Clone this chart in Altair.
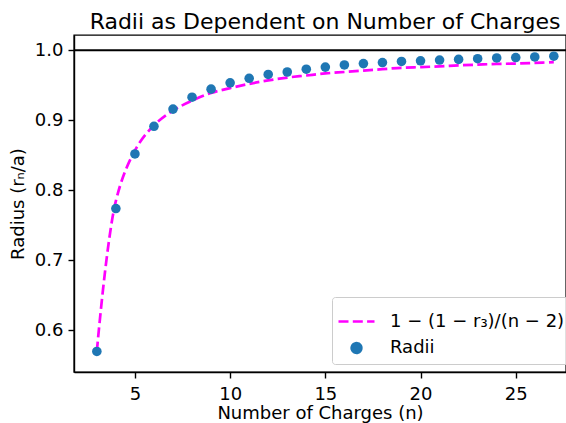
import altair as alt
import pandas as pd

# ---- data ----
n_charges = list(range(3, 28))
radii = [0.570, 0.774, 0.852, 0.8915, 0.916, 0.933, 0.9445, 0.9535, 0.960, 0.9655,
         0.969, 0.973, 0.976, 0.979, 0.981, 0.9825, 0.984, 0.985, 0.986, 0.987,
         0.988, 0.989, 0.9896, 0.9905, 0.9915]
fit_values = [0.570, 0.785, 0.857, 0.893, 0.914, 0.928, 0.939, 0.946, 0.952, 0.957,
              0.961, 0.964, 0.967, 0.969, 0.971, 0.973, 0.975, 0.976, 0.977, 0.9785,
              0.9795, 0.9805, 0.981, 0.982, 0.983]
hline_y = [1.0]
series_names = ["1 − (1 − r₃)/(n − 2)", "Radii"]
x_ticks = [5, 10, 15, 20, 25]
y_ticks = [0.6, 0.7, 0.8, 0.9, 1.0]

FONT = "DejaVu Sans"

fit_df = pd.DataFrame({"n": n_charges, "r": fit_values, "series": series_names[0]})
pts_df = pd.DataFrame({"n": n_charges, "r": radii, "series": series_names[1]})
hl_df = pd.DataFrame({"y": hline_y})

x_scale = alt.Scale(domain=[1.8, 27.64], nice=False, zero=False)
y_scale = alt.Scale(domain=[0.5407, 1.0218], nice=False, zero=False)

x_axis = alt.Axis(values=x_ticks, title="Number of Charges (n)", grid=False,
                  tickSize=6, labelPadding=7, titlePadding=1)
y_axis = alt.Axis(values=y_ticks, format=".1f", title="Radius (rₙ/a)", grid=False,
                  tickSize=6, labelPadding=5, titlePadding=7)

color_scale = alt.Scale(domain=series_names, range=["#ff00ff", "#1f77b4"])
dash_scale = alt.Scale(domain=series_names, range=[[10, 4.3], [1, 0]])
shape_scale = alt.Scale(domain=series_names, range=["stroke", "circle"])
size_scale = alt.Scale(type="ordinal", domain=series_names, range=[1296, 92])

legend = alt.Legend(title=None, orient="none", legendX=258, legendY=262,
                    padding=5, fillColor="rgba(255,255,255,0.8)", strokeColor="#cccccc",
                    cornerRadius=3, labelFontSize=18, labelFont=FONT, labelColor="black",
                    labelOffset=14, labelLimit=400, symbolStrokeWidth=2.7, rowPadding=6)

rule = alt.Chart(hl_df).mark_rule(color="black", strokeWidth=2).encode(
    y=alt.Y("y:Q", scale=y_scale, axis=y_axis)
)

line = alt.Chart(fit_df).mark_line(strokeWidth=2.7, interpolate="catmull-rom").encode(
    x=alt.X("n:Q", scale=x_scale, axis=x_axis),
    y=alt.Y("r:Q", scale=y_scale, axis=y_axis),
    color=alt.Color("series:N", scale=color_scale, legend=legend),
    strokeDash=alt.StrokeDash("series:N", scale=dash_scale, legend=legend),
)

points = alt.Chart(pts_df).mark_point(filled=True, opacity=1).encode(
    x=alt.X("n:Q", scale=x_scale, axis=x_axis),
    y=alt.Y("r:Q", scale=y_scale, axis=y_axis),
    color=alt.Color("series:N", scale=color_scale, legend=legend),
    shape=alt.Shape("series:N", scale=shape_scale, legend=legend),
    size=alt.Size("series:N", scale=size_scale, legend=legend),
)

chart = alt.layer(rule, line, points).properties(
    width=492, height=337,
    title=alt.TitleParams("Radii as Dependent on Number of Charges", fontSize=22,
                          font=FONT, fontWeight="normal", color="black",
                          anchor="middle", baseline="alphabetic", offset=7, dx=5, dy=23),
    autosize=alt.AutoSizeParams(type="none"),
    padding={"left": 74, "top": 35, "right": 0, "bottom": 51},
).configure_view(
    stroke="black", strokeWidth=1.4
).configure_axis(
    labelFont=FONT, titleFont=FONT, labelFontSize=18, titleFontSize=18,
    titleFontWeight="normal", labelColor="black", titleColor="black",
    domainColor="black", tickColor="black", domainWidth=1.4, tickWidth=1.4,
)

chart.save("out.html", embed_options={"renderer": "svg", "actions": False})
